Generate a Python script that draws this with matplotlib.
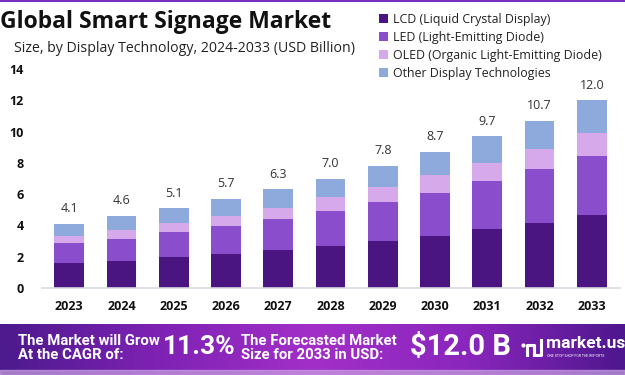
import matplotlib.pyplot as plt
import numpy as np
from matplotlib.colors import LinearSegmentedColormap

years = ["2023", "2024", "2025", "2026", "2027", "2028", "2029", "2030", "2031", "2032", "2033"]
lcd = [1.6, 1.75, 1.95, 2.15, 2.4, 2.7, 3.0, 3.35, 3.75, 4.15, 4.65]
led = [1.25, 1.4, 1.6, 1.8, 2.0, 2.25, 2.5, 2.75, 3.1, 3.45, 3.8]
oled = [0.5, 0.55, 0.6, 0.65, 0.7, 0.85, 0.95, 1.1, 1.15, 1.3, 1.45]
other = [0.75, 0.9, 0.95, 1.1, 1.2, 1.2, 1.35, 1.5, 1.7, 1.8, 2.1]
totals = [4.1, 4.6, 5.1, 5.7, 6.3, 7.0, 7.8, 8.7, 9.7, 10.7, 12.0]

series = [
    ("LCD (Liquid Crystal Display)", lcd, "#4a1580"),
    ("LED (Light-Emitting Diode)", led, "#8a4dcc"),
    ("OLED (Organic Light-Emitting Diode)", oled, "#d6a9ea"),
    ("Other Display Technologies", other, "#8ea9dc"),
]

plt.rcParams["font.family"] = ["Open Sans", "DejaVu Sans"]

W, H = 625, 375
fig = plt.figure(figsize=(W / 100, H / 100), dpi=100)
fig.patch.set_facecolor("white")

# main chart
ax = fig.add_axes([42 / W, 1 - 288 / H, 578 / W, 219 / H])
x = np.arange(len(years))
bottom = np.zeros(len(years))
for name, vals, color in series:
    ax.bar(x, vals, width=0.57, bottom=bottom, color=color, label=name)
    bottom += np.array(vals)

for xi, t in zip(x, totals):
    ax.text(xi, t + 0.55, f"{t:.1f}", ha="center", va="bottom",
            fontsize=9, color="#333333")

ax.set_xlim(-0.52, 10.54)
ax.set_ylim(0, 14)
ax.set_yticks(range(0, 15, 2))
ax.set_xticks(x)
ax.set_xticklabels(years)
ax.tick_params(axis="both", length=0, labelsize=9)
ax.tick_params(axis="x", pad=9)
ax.tick_params(axis="y", pad=13)
for lbl in ax.get_xticklabels() + ax.get_yticklabels():
    lbl.set_fontweight("bold")
    lbl.set_color("#111111")
for s in ["top", "right", "left"]:
    ax.spines[s].set_visible(False)
ax.spines["bottom"].set_color("#d8d8e0")
ax.spines["bottom"].set_linewidth(1.2)

# legend
handles, labels = ax.get_legend_handles_labels()
fig.legend(handles, labels, loc="upper left", bbox_to_anchor=(368 / W, 1 - 2 / H),
           frameon=False, fontsize=8.9, handlelength=0.7, handleheight=0.7,
           handletextpad=0.4, labelspacing=0.4, labelcolor="#222222")

# titles
fig.text(0 / W, 1 - 22 / H, "Global Smart Signage Market", fontsize=16.5,
         fontweight="bold", va="center", ha="left", color="#111111")
fig.text(14 / W, 1 - 48 / H, "Size, by Display Technology, 2024-2033 (USD Billion)",
         fontsize=10.15, va="center", ha="left", color="#222222")

# top stripe
fig.add_artist(plt.Rectangle((0, 1 - 2 / H), 1, 2 / H, transform=fig.transFigure,
                             color="#7b2fbe", lw=0))

# bottom banner with gradient
bax = fig.add_axes([0, 0, 1, 51 / H])
cmap = LinearSegmentedColormap.from_list(
    "banner", ["#4c1a8c", "#7e22b4", "#a22fc8", "#8a26bc", "#4e178e"])
grad = np.linspace(0, 1, 256).reshape(1, -1)
bax.imshow(grad, aspect="auto", cmap=cmap, extent=[0, 1, 0, 1])
bax.axhspan(0, 0.1, color="#c9a2e2", alpha=0.7)
bax.set_xlim(0, 1)
bax.set_ylim(0, 1)
bax.axis("off")

bfont = ["Roboto", "DejaVu Sans"]
fig.text(18 / W, 1 - 348 / H, "The Market will Grow\nAt the CAGR of:", fontsize=10.7,
         fontweight="bold", color="white", va="center", ha="left",
         family=bfont, linespacing=1.05)
fig.text(163 / W, 1 - 347 / H, "11.3%", fontsize=19, fontweight="bold",
         color="white", va="center", ha="left", family=bfont)
fig.text(241 / W, 1 - 348 / H, "The Forecasted Market\nSize for 2033 in USD:",
         fontsize=10.7, fontweight="bold", color="white", va="center", ha="left",
         family=bfont, linespacing=1.05)
fig.text(410 / W, 1 - 347 / H, "$12.0 B", fontsize=21, fontweight="bold",
         color="white", va="center", ha="left", family=bfont)

# logo
lax = fig.add_axes([520 / W, 1 - 357 / H, 24 / W, 20 / H])
lax.plot([0.1, 0.1, 0.5, 0.5], [0.1, 0.6, 0.6, 0.1], color="white", lw=2.2)
lax.plot([0.5, 0.5, 0.9, 0.9], [0.55, 0.1, 0.1, 0.85], color="white", lw=2.2)
lax.plot([-0.15], [0.6], "o", color="white", ms=2)
lax.set_xlim(-0.3, 1.1)
lax.set_ylim(0, 1)
lax.axis("off")
fig.text(546 / W, 1 - 344 / H, "market.us", fontsize=12.5, fontweight="bold",
         color="white", va="center", ha="left", family=bfont)
fig.text(547 / W, 1 - 356 / H, "ONE STOP SHOP FOR THE REPORTS", fontsize=2.5,
         color="white", va="center", ha="left", family=bfont)

fig.savefig("out.png", dpi=100)
